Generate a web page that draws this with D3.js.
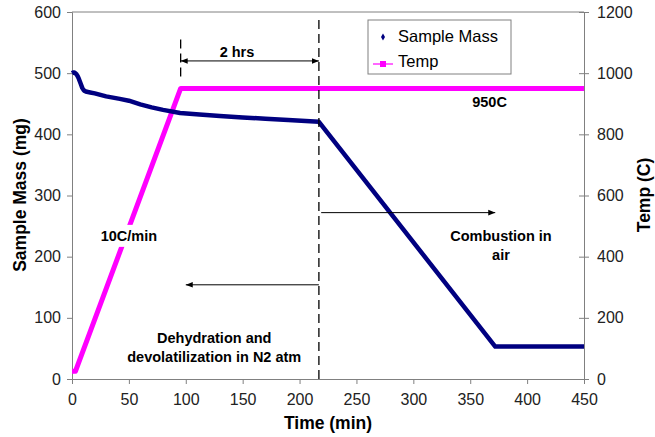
<!DOCTYPE html>
<html>
<head>
<meta charset="utf-8">
<script src="https://cdn.jsdelivr.net/npm/d3@7"></script>
<style>
body { margin: 0; background: #fff; }
svg { font-family: Arial, "Liberation Sans", sans-serif; }
.tick text { fill: #222; font-size: 16px; }
.domain, .tick line { stroke: #808080; }
.note { font-weight: bold; font-size: 14.5px; fill: #000; }
.axis_title { font-weight: bold; font-size: 17.5px; fill: #000; }
</style>
</head>
<body>
<div id="chart"></div>
<script>
// time (min) and sample mass (mg)
var mass_time = [0, 1, 2, 3, 4, 5, 6, 7, 8, 9, 10, 11, 13, 16, 20, 30, 42, 50, 60, 70, 80, 95, 112, 130, 150, 170, 190, 217, 372, 450];
var mass_vals = [500, 501, 501, 500, 498, 495, 491, 486, 481, 476, 473, 471, 469.5, 468.5, 467, 462, 458, 455, 449, 444, 440, 435, 432.5, 430, 427.5, 425.5, 423.5, 420.5, 53, 53];

// time (min) and furnace temperature (C)
var temp_time = [0, 3, 95.5, 450];
var temp_vals = [25, 25, 950, 950];

var x_ticks = [0, 50, 100, 150, 200, 250, 300, 350, 400, 450];
var mass_ticks = [0, 100, 200, 300, 400, 500, 600];
var temp_ticks = [0, 200, 400, 600, 800, 1000, 1200];

var legend_names = ["Sample Mass", "Temp"];

// annotations in data units (time, mass axis)
var note_text = [["2 hrs"], ["950C"], ["10C/min"], ["Combustion in", "air"], ["Dehydration and", "devolatilization in N2 atm"]];
var note_time = [145, 367, 50, 377, 125];
var note_mass = [534, 453, 234, 234, 67];
var note_boxed = [false, false, true, false, false];

var W = 655, H = 437;
var x = d3.scaleLinear().domain([0, 450]).range([72, 584]);
var y_mass = d3.scaleLinear().domain([0, 600]).range([379, 12]);
var y_temp = d3.scaleLinear().domain([0, 1200]).range([379, 12]);

var svg = d3.select("#chart").append("svg").attr("width", W).attr("height", H);

var defs = svg.append("defs");
["arr_end", "arr_start"].forEach(function(id, i) {
   defs.append("marker").attr("id", id).attr("viewBox", "0 0 10 10")
      .attr("refX", i == 0 ? 10 : 0).attr("refY", 5)
      .attr("markerWidth", 7).attr("markerHeight", 7).attr("markerUnits", "userSpaceOnUse")
      .attr("orient", "auto")
      .append("path").attr("d", i == 0 ? "M0,1L10,5L0,9Z" : "M10,1L0,5L10,9Z").attr("fill", "#000");
});

// plot area top border
svg.append("line").attr("x1", x(0)).attr("x2", x(450)).attr("y1", y_mass(600)).attr("y2", y_mass(600))
   .attr("stroke", "#808080");

svg.append("g").attr("transform", "translate(0," + y_mass(0) + ")")
   .call(d3.axisBottom(x).tickValues(x_ticks).tickSizeOuter(0).tickSize(5).tickPadding(10));
svg.append("g").attr("transform", "translate(" + x(0) + ",0)")
   .call(d3.axisLeft(y_mass).tickValues(mass_ticks).tickSizeOuter(0).tickSize(5).tickPadding(6));
var right_axis = svg.append("g").attr("transform", "translate(" + x(450) + ",0)")
   .call(d3.axisRight(y_temp).tickValues(temp_ticks).tickFormat(d3.format("d")).tickSizeOuter(0).tickSize(5).tickPadding(8));
right_axis.selectAll(".tick line").attr("x1", -5);

svg.append("text").attr("class", "axis_title").attr("x", 328).attr("y", 429).attr("text-anchor", "middle").text("Time (min)");
svg.append("text").attr("class", "axis_title").attr("text-anchor", "middle")
   .attr("transform", "translate(26,195) rotate(-90)").text("Sample Mass (mg)");
svg.append("text").attr("class", "axis_title").attr("text-anchor", "middle")
   .attr("transform", "translate(650,195) rotate(-90)").text("Temp (C)");

// series
var mass_data = mass_time.map(function(t, i) { return [t, mass_vals[i]]; });
var temp_data = temp_time.map(function(t, i) { return [t, temp_vals[i]]; });

svg.append("path").datum(temp_data)
   .attr("d", d3.line().x(function(d) { return x(d[0]); }).y(function(d) { return y_temp(d[1]); }))
   .attr("fill", "none").attr("stroke", "#ff00ff").attr("stroke-width", 5).attr("stroke-linejoin", "round");
svg.append("path").datum(mass_data)
   .attr("d", d3.line().x(function(d) { return x(d[0]); }).y(function(d) { return y_mass(d[1]); }))
   .attr("fill", "none").attr("stroke", "#000080").attr("stroke-width", 4.5).attr("stroke-linejoin", "round");

// dashed guide lines
svg.append("line").attr("x1", x(217)).attr("x2", x(217)).attr("y1", y_mass(587)).attr("y2", y_mass(0))
   .attr("stroke", "#000").attr("stroke-width", 1.3).attr("stroke-dasharray", "9,5");
svg.append("line").attr("x1", x(95.5)).attr("x2", x(95.5)).attr("y1", y_mass(555)).attr("y2", y_mass(490))
   .attr("stroke", "#000").attr("stroke-width", 1.3).attr("stroke-dasharray", "9,5");

// arrows
svg.append("line").attr("x1", x(95.5)).attr("x2", x(217)).attr("y1", y_mass(520)).attr("y2", y_mass(520))
   .attr("stroke", "#000").attr("marker-start", "url(#arr_start)").attr("marker-end", "url(#arr_end)");
svg.append("line").attr("x1", x(219)).attr("x2", x(372)).attr("y1", y_mass(272)).attr("y2", y_mass(272))
   .attr("stroke", "#000").attr("marker-end", "url(#arr_end)");
svg.append("line").attr("x1", x(217)).attr("x2", x(100)).attr("y1", y_mass(154)).attr("y2", y_mass(154))
   .attr("stroke", "#000").attr("marker-end", "url(#arr_end)");

// notes
note_text.forEach(function(lines, i) {
   var g = svg.append("g").attr("transform", "translate(" + x(note_time[i]) + "," + y_mass(note_mass[i]) + ")");
   var t = g.append("text").attr("class", "note").attr("text-anchor", "middle");
   lines.forEach(function(s, j) {
      t.append("tspan").attr("x", 0).attr("y", j * 19 + 5).text(s);
   });
   if (note_boxed[i]) {
      var bb = t.node().getBBox();
      g.insert("rect", "text").attr("x", bb.x - 4).attr("y", bb.y - 3)
         .attr("width", bb.width + 8).attr("height", bb.height + 6).attr("fill", "#fff");
   }
});

// legend
var lg = svg.append("g").attr("transform", "translate(368,20)");
lg.append("rect").attr("width", 143).attr("height", 54).attr("fill", "#fff").attr("stroke", "#808080");
lg.selectAll("text.leg").data(legend_names).enter().append("text").attr("class", "leg")
   .attr("x", 30).attr("y", function(d, i) { return 22 + i * 25; })
   .style("font-size", "16.5px").attr("fill", "#000").text(function(d) { return d; });
lg.append("path").attr("d", d3.symbol().type(d3.symbolDiamond).size(14)).attr("transform", "translate(15,17)")
   .attr("fill", "#000080");
lg.append("line").attr("x1", 5).attr("x2", 25).attr("y1", 44).attr("y2", 44).attr("stroke", "#ff00ff").attr("stroke-width", 1.2);
lg.append("rect").attr("x", 12).attr("y", 41).attr("width", 6).attr("height", 6).attr("fill", "#ff00ff");
</script>
</body>
</html>
